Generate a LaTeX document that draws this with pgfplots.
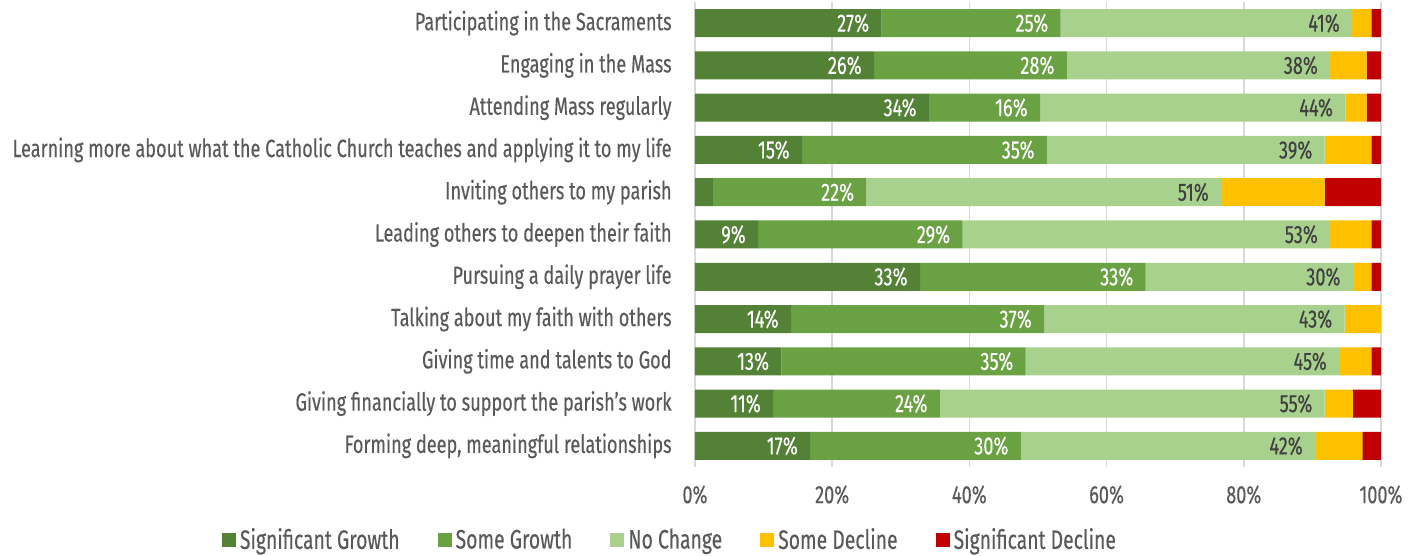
\documentclass[border=0pt]{standalone}
\usepackage{fontspec}
\setmainfont{Fira Sans}[FakeStretch=0.725, FakeBold=0.3]
\usepackage{pgfplots}
\usepackage{pgfplotstable}
\pgfplotsset{compat=1.18}

\definecolor{sgrow}{HTML}{538135}
\definecolor{somegrow}{HTML}{6AA142}
\definecolor{nochange}{HTML}{A9D18E}
\definecolor{somedec}{HTML}{FFC000}
\definecolor{sigdec}{HTML}{C00000}
\definecolor{txt}{HTML}{595959}
\definecolor{lbl}{HTML}{404040}

% segment widths, y = row (11 = top bar)
\pgfplotstableread{
y sg sog nc sd sigd
11 27.2 26.1 42.5 2.8 1.4
10 26.1 28.1 38.4 5.3 2.1
9 34.1 16.2 44.5 3.1 2.1
8 15.6 35.7 40.5 6.8 1.4
7 2.6 22.4 51.7 15.1 8.2
6 9.2 29.8 53.6 6.0 1.4
5 32.8 32.9 30.2 2.7 1.4
4 14.0 36.9 43.8 5.3 0
3 12.6 35.6 45.7 4.7 1.4
2 11.4 24.3 56.1 4.1 4.1
1 16.8 30.7 42.9 6.9 2.7
}\bars

% label positions (end of each segment) and printed labels
\pgfplotstableread{
y x lab
11 27.2 27\%
10 26.1 26\%
9 34.1 34\%
8 15.6 15\%
6 9.2 9\%
5 32.8 33\%
4 14.0 14\%
3 12.6 13\%
2 11.4 11\%
1 16.8 17\%
}\labSG

\pgfplotstableread{
y x lab
11 53.3 25\%
10 54.2 28\%
9 50.3 16\%
8 51.3 35\%
7 25.0 22\%
6 39.0 29\%
5 65.7 33\%
4 50.9 37\%
3 48.2 35\%
2 35.7 24\%
1 47.5 30\%
}\labSoG

\pgfplotstableread{
y x lab
11 95.8 41\%
10 92.6 38\%
9 94.8 44\%
8 91.8 39\%
7 76.7 51\%
6 92.6 53\%
5 95.9 30\%
4 94.7 43\%
3 93.9 45\%
2 91.8 55\%
1 90.4 42\%
}\labNC

\pgfplotsset{
  common/.style={
    at={(0,0)}, anchor=south west,
    scale only axis,
    width=343pt, height=232.5pt,
    xmin=0, xmax=100,
    ymin=0.5, ymax=11.5,
  },
}

\begin{document}
\begin{tikzpicture}
\begin{axis}[
  common,
  xbar stacked,
  bar width=14pt,
  xtick={0,20,...,100},
  xticklabel={\pgfmathprintnumber{\tick}\%},
  ytick={1,...,11},
  yticklabels={
    {Forming deep, meaningful relationships},
    {Giving financially to support the parish’s work},
    {Giving time and talents to God},
    {Talking about my faith with others},
    {Pursuing a daily prayer life},
    {Leading others to deepen their faith},
    {Inviting others to my parish\ },
    {Learning more about what the Catholic Church teaches and applying it to my life},
    {Attending Mass regularly\ },
    {Engaging in the Mass\ },
    {Participating in the Sacraments}},
  xmajorgrids,
  grid style={draw=black!15, line width=0.8pt},
  axis line style={draw=none},
  major tick length=0pt,
  /pgf/number format/assume math mode=true,
  tick label style={font=\fontsize{12.5}{15}\selectfont, text=txt},
  yticklabel style={inner sep=0pt, anchor=east, xshift=-11.5pt},
  xticklabel style={inner sep=0pt, anchor=north, yshift=-9pt},
  legend columns=5,
  legend style={draw=none, fill=none,
    at={(rel axis cs:-0.035,-0.157)}, anchor=center,
    font=\fontsize{13.35}{15}\selectfont, text=txt,
    /tikz/every even column/.append style={column sep=17pt}},
  legend image code/.code={\fill[#1] (0pt,-3.5pt) rectangle (7pt,3.5pt);},
]
\addplot[fill=sgrow, draw=none] table[x=sg, y=y] {\bars};
\addplot[fill=somegrow, draw=none] table[x=sog, y=y] {\bars};
\addplot[fill=nochange, draw=none] table[x=nc, y=y] {\bars};
\addplot[fill=somedec, draw=none] table[x=sd, y=y] {\bars};
\addplot[fill=sigdec, draw=none] table[x=sigd, y=y] {\bars};
\legend{Significant Growth, Some Growth, No Change, Some Decline, Significant Decline}
\end{axis}

% data labels, inside the end of each segment
\begin{axis}[
  common,
  hide axis,
  clip=false,
  point meta=explicit symbolic,
  nodes near coords={\pgfplotspointmeta},
  every node near coord/.style={font=\fontsize{12.5}{15}\selectfont,
    inner sep=0pt, anchor=east, xshift=-6pt},
]
\addplot[only marks, mark=none, every node near coord/.append style={text=white}]
  table[x=x, y=y, meta=lab] {\labSG};
\addplot[only marks, mark=none, every node near coord/.append style={text=white}]
  table[x=x, y=y, meta=lab] {\labSoG};
\addplot[only marks, mark=none, every node near coord/.append style={text=lbl}]
  table[x=x, y=y, meta=lab] {\labNC};
\end{axis}
\pgfresetboundingbox
\path[use as bounding box] (-347.5pt,-44.5pt) rectangle (362pt,233.5pt);
\end{tikzpicture}
\end{document}
